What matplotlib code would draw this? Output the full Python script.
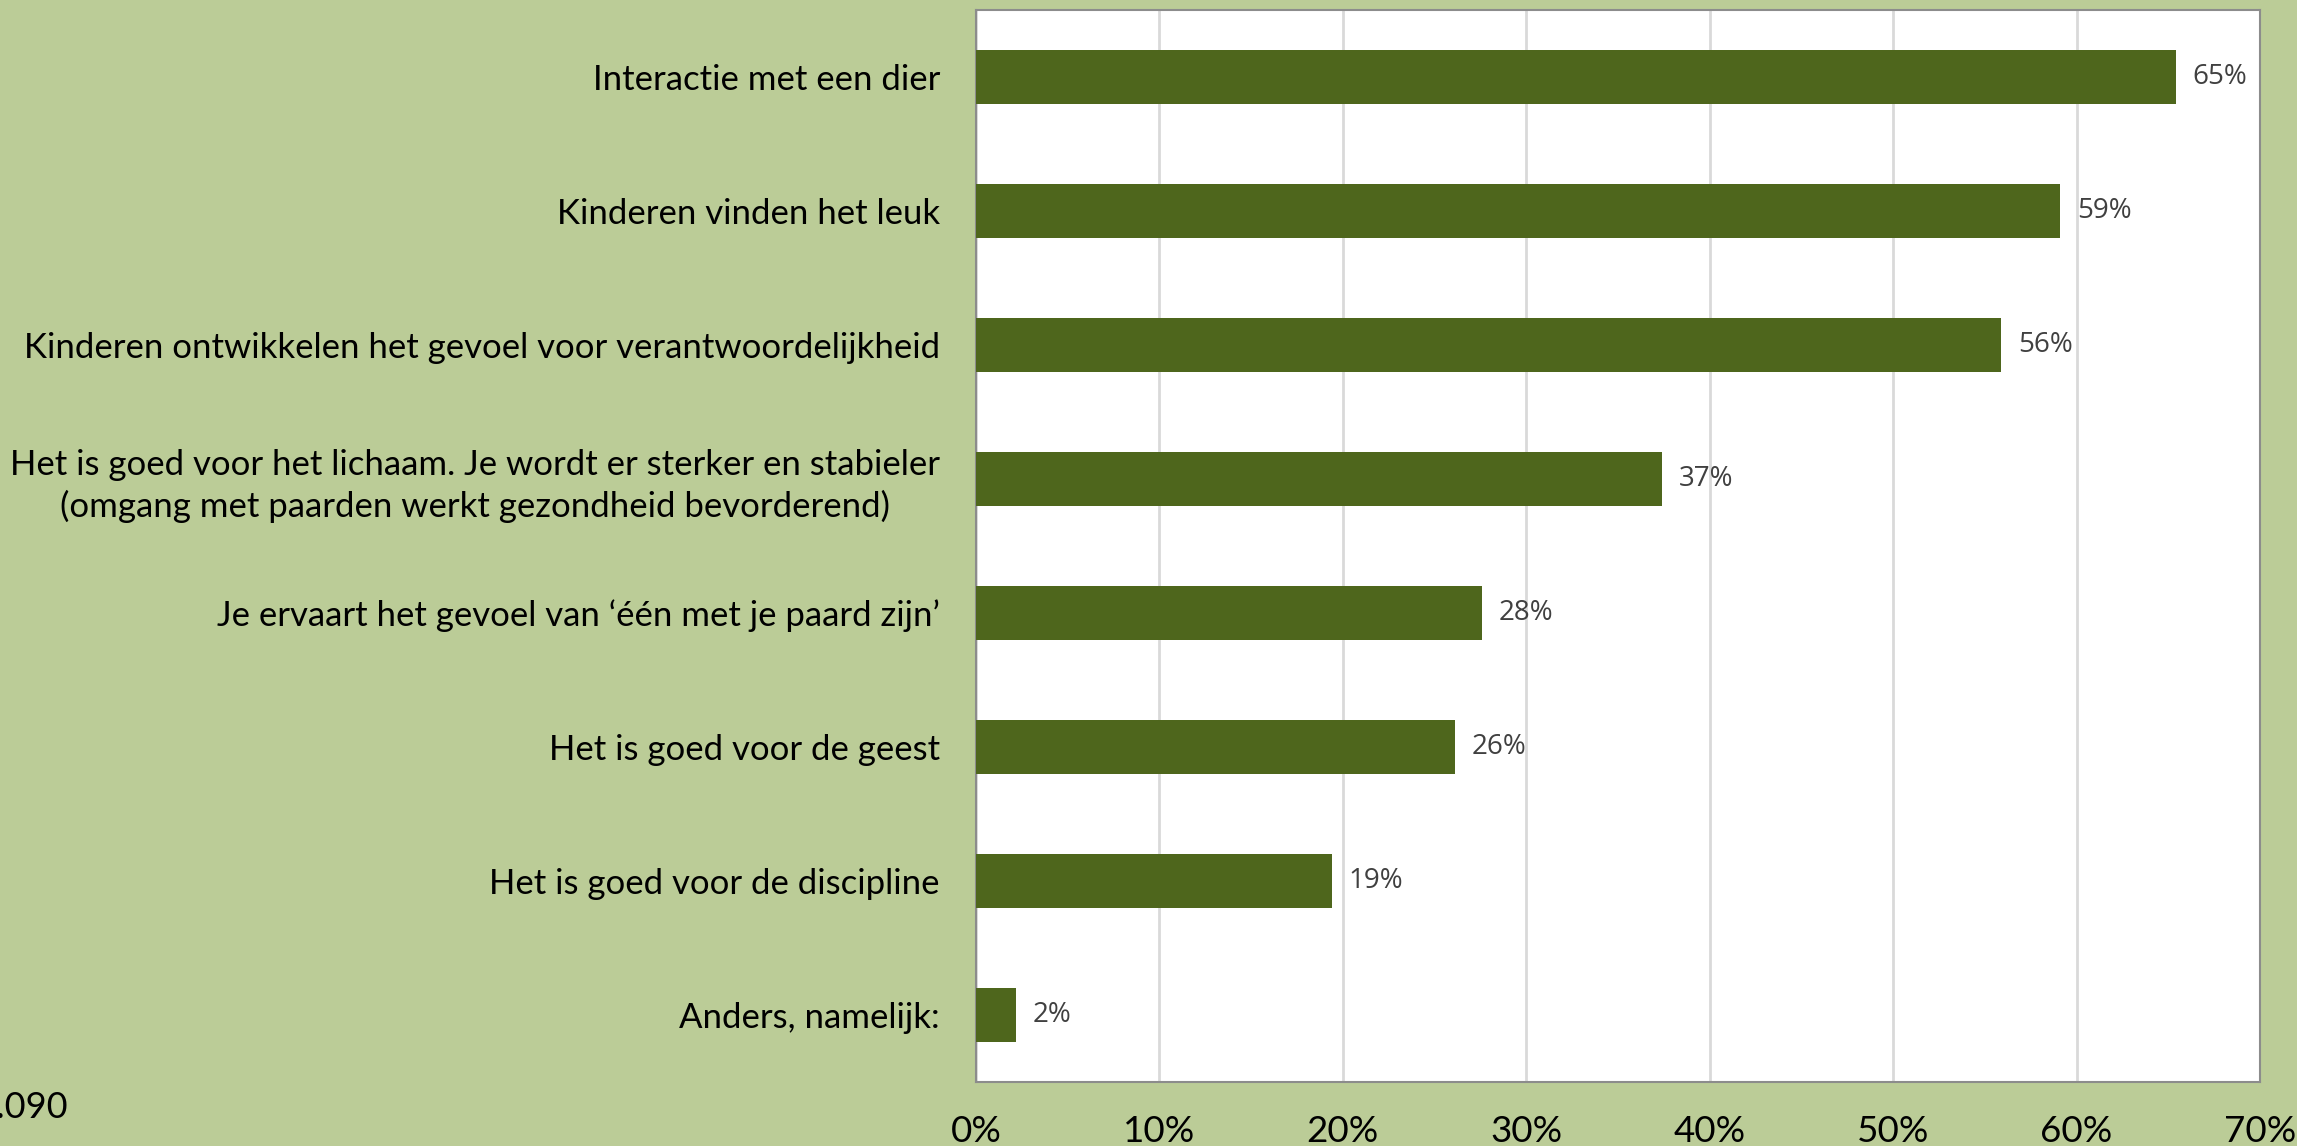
import numpy as np
import matplotlib
matplotlib.use("Agg")
import matplotlib.pyplot as plt

# Data
categorieen = [
    "Interactie met een dier",
    "Kinderen vinden het leuk",
    "Kinderen ontwikkelen het gevoel voor verantwoordelijkheid",
    "Het is goed voor het lichaam. Je wordt er sterker en stabieler\n(omgang met paarden werkt gezondheid bevorderend)",
    "Je ervaart het gevoel van \u2018\u00e9\u00e9n met je paard zijn\u2019",
    "Het is goed voor de geest",
    "Het is goed voor de discipline",
    "Anders, namelijk:",
]
percentages = [65.4, 59.1, 55.9, 37.4, 27.6, 26.1, 19.4, 2.2]
labels = ["65%", "59%", "56%", "37%", "28%", "26%", "19%", "2%"]
x_ticks = [0, 10, 20, 30, 40, 50, 60, 70]
x_ticklabels = [f"{t}%" for t in x_ticks]
n_tekst = "n=1.090"

plt.rcParams["font.family"] = ["Lato", "DejaVu Sans"]

bg = "#BBCC97"
bar_kleur = "#4E661C"

fig = plt.figure(figsize=(22.97, 11.46), dpi=100, facecolor=bg)
ax = fig.add_axes([0.4249, 0.0558, 0.9839 - 0.4249, 0.9913 - 0.0558])
ax.set_facecolor("white")

y = np.arange(len(categorieen))
ax.barh(y, percentages, height=0.4, color=bar_kleur, zorder=3)

for yi, v, lab in zip(y, percentages, labels):
    ax.annotate(lab, (v, yi), xytext=(12, 0), textcoords="offset points",
                ha="left", va="center", fontsize=20, color="#404040",
                family=["Open Sans", "DejaVu Sans"])

ax.set_ylim(len(categorieen) - 0.5, -0.5)
ax.set_xlim(0, 70)
ax.set_yticks(y)
ax.set_yticklabels(categorieen, fontsize=25, ha="right", linespacing=1.3,
                   multialignment="center")
ax.set_xticks(x_ticks)
ax.set_xticklabels(x_ticklabels, fontsize=26.5)
ax.tick_params(axis="y", length=0, pad=26)
ax.tick_params(axis="x", length=0, pad=24)

ax.grid(axis="x", color="#D9D9D9", linewidth=2, zorder=0)
for s in ax.spines.values():
    s.set_color("#8C8C8C")
    s.set_linewidth(1.5)

# tekst valt deels buiten de figuur, net als in het origineel
fig.text(68 / 2297, 1 - 1108 / 1146, n_tekst, ha="right", va="center", fontsize=26)

fig.savefig("out.png", dpi=100, facecolor=bg)
